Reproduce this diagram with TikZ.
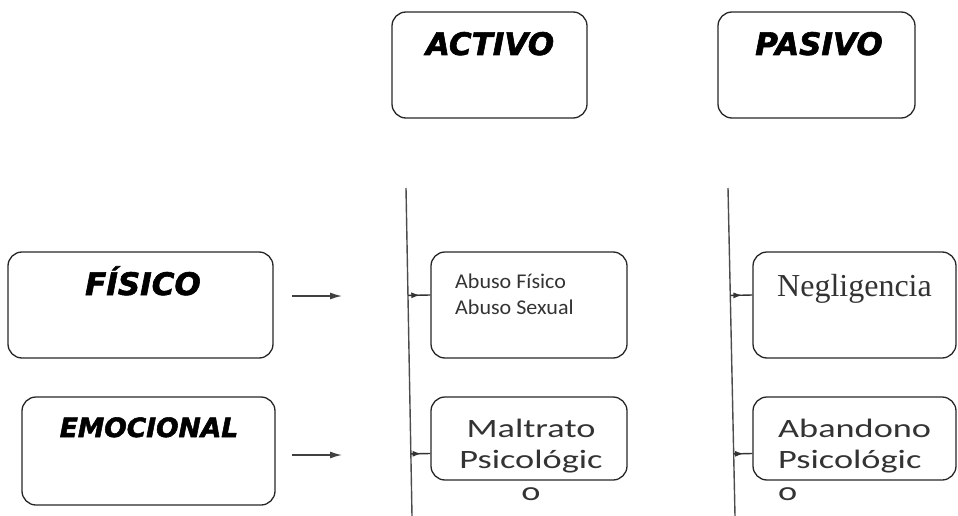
\documentclass[tikz,border=0pt]{standalone}
\usepackage{fontspec}
\usetikzlibrary{arrows.meta,calc,decorations.markings}
\newfontfamily\titulo[BoldItalicFeatures={FakeBold=2}]{DejaVu Sans}
\newfontfamily\ancha[FakeStretch=1.37]{Carlito}
\newfontfamily\calib[FakeStretch=1.05]{Carlito}
\newfontfamily\tiempos{Liberation Serif}
\begin{document}
\begin{tikzpicture}[x=1pt,y=-1pt,
	caja/.style={draw=black!85,line width=1.3pt,rounded corners=14pt,inner sep=0pt},
	tit_text/.style={anchor=base,inner sep=0pt,font=\titulo\bfseries\itshape\fontsize{31}{31}\selectfont},
	flecha/.style={draw=black!75,line width=1.4pt,-{Latex[length=12pt,width=7pt]}},
	linea/.style={draw=black!70,line width=1.4pt},
	conector/.style={draw=black!80,line width=1.4pt,postaction={decorate},
		decoration={markings,mark=at position 0.55 with {\arrow{Latex[length=9pt,width=6pt]}}}}]
	
	\useasboundingbox (0,0) rectangle (958,516);
	
	% cabeceras
	\node[caja,minimum width=195,minimum height=106] (activo) at (489.5,65) {};
	\node[caja,minimum width=197,minimum height=106] (pasivo) at (816.5,65) {};
	\node[tit_text] (activo_t) at (490,55) {ACTIVO};
	\node[tit_text] (pasivo_t) at (819,55) {PASIVO};
	
	% tipos
	\node[caja,minimum width=265,minimum height=106] (fisico) at (140.5,305) {};
	\node[caja,minimum width=253,minimum height=108] (emocional) at (148.5,451) {};
	\node[tit_text] (fisico_t) at (143,295) {FÍSICO};
	\node[tit_text,font=\titulo\bfseries\itshape\fontsize{26.5}{26.5}\selectfont] (emocional_t) at (149,437) {EMOCIONAL};
	
	\coordinate (f1) at (292,296);
	\coordinate (f2) at (342,296);
	\coordinate (e1) at (292,455);
	\coordinate (e2) at (342,455);
	\draw[flecha] (f1) -- (f2);
	\draw[flecha] (e1) -- (e2);
	
	% lineas verticales
	\coordinate (l1a) at (406,188);
	\coordinate (l1b) at (412,516);
	\coordinate (l2a) at (728,188);
	\coordinate (l2b) at (735,516);
	\draw[linea] (l1a) -- (l1b);
	\draw[linea] (l2a) -- (l2b);
	
	% casillas
	\node[caja,minimum width=196,minimum height=106] (abuso) at (529,305) {};
	\node[caja,minimum width=203,minimum height=106] (negligencia) at (854.5,305) {};
	\node[caja,minimum width=196,minimum height=83] (maltrato) at (529,438.5) {};
	\node[caja,minimum width=203,minimum height=83] (abandono) at (854.5,438.5) {};
	
	\node[anchor=base west,inner sep=0pt,align=left,text=black!80,font=\calib\fontsize{21}{26}\selectfont] (abuso_t) at (455,314) {Abuso Físico\\Abuso Sexual};
	\node[anchor=base west,inner sep=0pt,text=black!80,font=\tiempos\fontsize{32}{32}\selectfont] (negligencia_t) at (777,296) {Negligencia};
	\node[anchor=base,inner sep=0pt,align=center,text=black!80,font=\ancha\fontsize{26.5}{31.5}\selectfont] (maltrato_t) at (531,500) {Maltrato\\Psicológic\\o};
	\node[anchor=base west,inner sep=0pt,align=left,text=black!80,font=\ancha\fontsize{26.5}{31.5}\selectfont] (abandono_t) at (778,500) {Abandono\\Psicológic\\o};
	
	\coordinate (ab_in) at ($(abuso.west)+(0,-10)$);
	\coordinate (ne_in) at ($(negligencia.west)+(0,-10)$);
	\coordinate (m_in) at ($(maltrato.west)+(0,15)$);
	\coordinate (a_in) at ($(abandono.west)+(0,15)$);
	\draw[conector] ($(l1a)!(ab_in)!(l1b)$) -- (ab_in);
	\draw[conector] ($(l2a)!(ne_in)!(l2b)$) -- (ne_in);
	\draw[conector] ($(l1a)!(m_in)!(l1b)$) -- (m_in);
	\draw[conector] ($(l2a)!(a_in)!(l2b)$) -- (a_in);
\end{tikzpicture}
\end{document}
